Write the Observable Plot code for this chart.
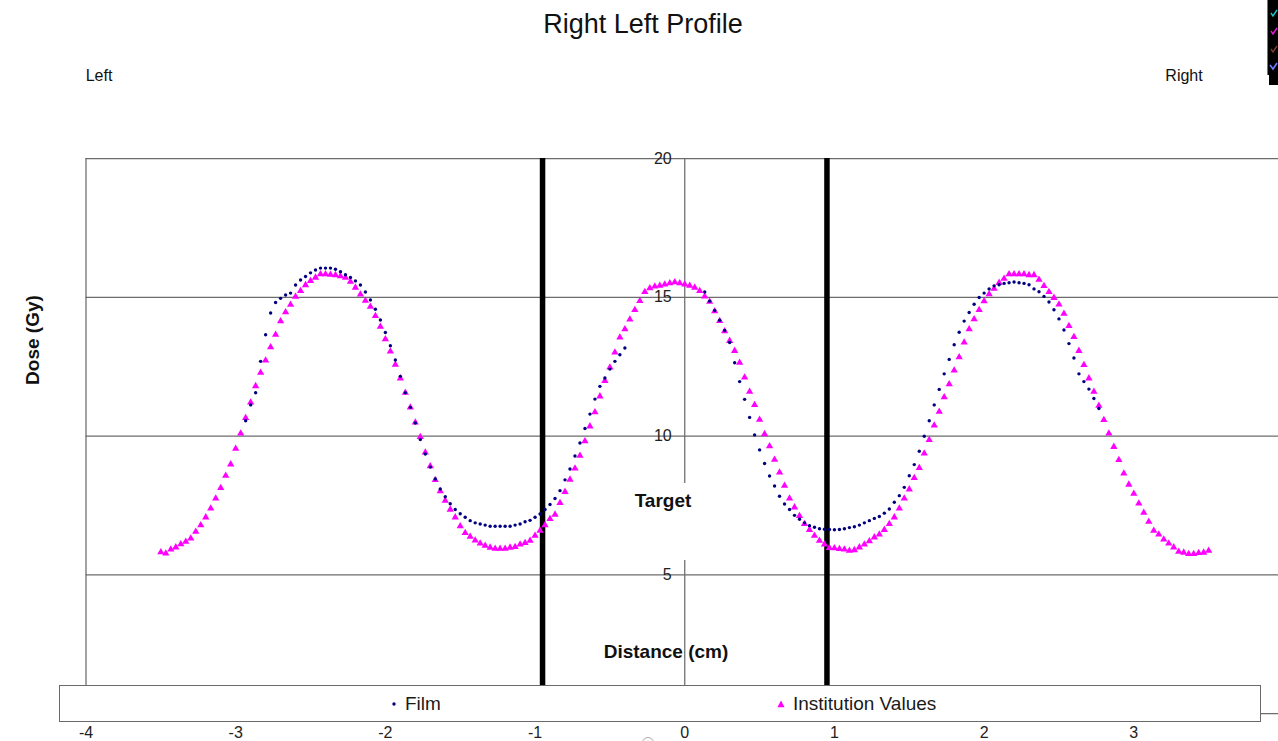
<!DOCTYPE html>
<html>
<head>
<meta charset="utf-8">
<script src="https://cdn.jsdelivr.net/npm/d3@7"></script>
<script src="https://cdn.jsdelivr.net/npm/@observablehq/plot@0.6"></script>
<style>
  html, body { margin: 0; padding: 0; background: #fff; overflow: hidden; width: 1278px; height: 741px; }
  body { position: relative; font-family: "Liberation Sans", Arial, sans-serif; color: #111; }
  #chart { position: absolute; left: 0; top: 0; width: 1290px; height: 741px; }
  #chart svg { max-width: none !important; width: 1290px !important; height: 741px !important; }
  .lbl { position: absolute; white-space: nowrap; line-height: 1; transform: translate(-50%, -50%); }
  .bold { font-weight: bold; }
  #legend { position: absolute; left: 59px; top: 685px; width: 1200px; height: 35px;
            background: #fff; border: 1.5px solid #6a6a6a; }
  .key { position: absolute; top: 50%; transform: translateY(-50%); font-size: 19px; display: flex; align-items: center; color: #1a1a1a; }
  .key svg { margin-right: 8px; }
  #badge { position: absolute; left: 1267px; top: 0; width: 11px; height: 75px; background: #000; border-left: 1px solid #777; }
  #badge2 { position: absolute; left: 1269px; top: 75px; width: 9px; height: 10px; background: #000; }
  #knob { position: absolute; left: 642px; top: 737px; width: 10px; height: 10px; border: 1.5px solid #aaa; border-radius: 50%; }
</style>
</head>
<body>
<div id="chart"></div>

<div class="lbl" style="left:643px; top:24px; font-size:27px;">Right Left Profile</div>
<div class="lbl" style="left:99px; top:76px; font-size:16px;">Left</div>
<div class="lbl" style="left:1184px; top:76px; font-size:16px;">Right</div>
<div class="lbl bold" style="left:32px; top:340px; font-size:19px; transform: translate(-50%, -50%) rotate(-90deg);">Dose (Gy)</div>
<div class="lbl bold" style="left:663px; top:500px; font-size:19px;">Target</div>
<div class="lbl bold" style="left:666px; top:651px; font-size:19px;">Distance (cm)</div>

<div id="legend">
  <div class="key" style="left:331px;">
    <svg width="6" height="6"><circle cx="3" cy="3" r="1.7" fill="#000080"/></svg>Film
  </div>
  <div class="key" style="left:717px;">
    <svg width="8" height="8"><path d="M4,0.5 L7.6,7.2 L0.4,7.2 Z" fill="#ff00ff"/></svg>Institution Values
  </div>
</div>

<div id="badge">
  <svg width="11" height="75">
    <path d="M3,13 l2,3 l4,-6" stroke="#19c6c6" stroke-width="1.4" fill="none"/>
    <path d="M3,31 l2,3 l4,-6" stroke="#e21ad8" stroke-width="1.4" fill="none"/>
    <path d="M3,49 l2,3 l4,-6" stroke="#7a3b2c" stroke-width="1.4" fill="none"/>
    <path d="M2,65 l3,4 l4,-6" stroke="#6a7cff" stroke-width="1.6" fill="none"/>
  </svg>
</div>
<div id="badge2"></div>
<div id="knob"></div>

<script>
// Dose grid and axis ticks
const gridDose = [5, 10, 15, 20];
const distanceTicks = [-4, -3, -2, -1, 0, 1, 2, 3];
// Target edges (cm)
const targetEdges = [-0.95, 0.95];

// Profile sampling: first sample position (cm) and spacing between samples (cm)
const sampleStart = -3.5;
const sampleSpacing = 1 / 30;

// Institution planned dose (Gy), one value per sample from -3.5 cm to 3.5 cm
const institutionDose = [
  5.81, 5.77, 5.91, 5.99, 6.10, 6.19, 6.31, 6.55, 6.79, 7.07,
  7.39, 7.75, 8.13, 8.57, 8.98, 9.54, 10.09, 10.65, 11.21, 11.80,
  12.28, 12.72, 13.20, 13.65, 14.14, 14.46, 14.73, 15.02, 15.23, 15.44,
  15.59, 15.71, 15.83, 15.83, 15.81, 15.80, 15.76, 15.71, 15.56, 15.35,
  15.10, 14.88, 14.66, 14.33, 13.94, 13.49, 13.05, 12.57, 12.08, 11.56,
  11.03, 10.49, 9.97, 9.41, 8.91, 8.42, 8.01, 7.67, 7.35, 7.07,
  6.75, 6.51, 6.37, 6.24, 6.13, 6.05, 5.98, 5.94, 5.94, 5.94,
  5.98, 6.00, 6.09, 6.15, 6.23, 6.41, 6.59, 6.79, 7.01, 7.17,
  7.59, 7.99, 8.43, 8.83, 9.29, 9.81, 10.35, 10.86, 11.43, 11.99,
  12.47, 13.01, 13.55, 13.85, 14.20, 14.54, 14.87, 15.19, 15.33, 15.39,
  15.42, 15.46, 15.51, 15.54, 15.51, 15.46, 15.42, 15.35, 15.23, 15.03,
  14.84, 14.50, 14.15, 13.78, 13.43, 13.07, 12.64, 12.11, 11.60, 11.12,
  10.59, 10.07, 9.63, 9.15, 8.69, 8.21, 7.75, 7.43, 7.12, 6.83,
  6.62, 6.41, 6.23, 6.09, 5.97, 5.96, 5.93, 5.91, 5.87, 5.89,
  5.99, 6.09, 6.21, 6.35, 6.45, 6.62, 6.83, 7.07, 7.39, 7.75,
  8.08, 8.49, 8.85, 9.37, 9.86, 10.38, 10.88, 11.40, 11.87, 12.36,
  12.84, 13.37, 13.85, 14.21, 14.54, 14.86, 15.11, 15.31, 15.52, 15.67,
  15.83, 15.83, 15.83, 15.83, 15.80, 15.80, 15.63, 15.41, 15.19, 14.98,
  14.74, 14.41, 13.97, 13.57, 13.07, 12.56, 12.08, 11.60, 11.09, 10.58,
  10.09, 9.61, 9.14, 8.65, 8.25, 7.92, 7.57, 7.24, 6.91, 6.59,
  6.45, 6.27, 6.13, 5.99, 5.83, 5.80, 5.75, 5.75, 5.79, 5.80, 5.87
];

// Film measured dose (Gy); starts at sample 17, null where the film gave no reading
const filmFirstSample = 17;
const filmDose = [
  10.55, 11.12, 11.56, 12.69, 13.65, 14.43, 14.81, 14.96, 15.08, 15.15,
  15.44, 15.62, 15.75, 15.88, 15.98, 16.05, 16.05, 16.05, 16.01, 15.92,
  15.81, 15.71, 15.59, 15.44, 15.19, 14.90, 14.57, 14.18, 13.73, 13.25,
  12.74, 12.15, 11.56, 11.03, 10.47, 9.87, 9.35, 8.88, 8.45, 8.09,
  7.81, 7.56, 7.35, 7.20, 7.07, 6.95, 6.87, 6.83, 6.79, 6.75,
  6.75, 6.75, 6.75, 6.75, 6.79, 6.83, 6.91, 6.96, 7.07, 7.19,
  7.35, 7.53, 7.75, 8.03, 8.42, 8.81, 9.28, 9.75, 10.27, 10.79,
  11.33, 11.79, 12.09, 12.41, 12.69, 12.93, 13.17, null, null, null,
  null, null, null, null, null, null, null, null, null, null,
  null, null, 15.19, 14.86, 14.52, 14.17, 13.80, 13.37, 12.64, 11.96,
  11.32, 10.67, 10.04, 9.50, 9.01, 8.56, 8.20, 7.83, 7.55, 7.35,
  7.14, 7.00, 6.87, 6.77, 6.71, 6.66, 6.64, 6.63, 6.62, 6.63,
  6.66, 6.70, 6.73, 6.79, 6.87, 6.95, 7.03, 7.10, 7.22, 7.37,
  7.61, 7.85, 8.15, 8.57, 8.97, 9.45, 9.99, 10.55, 11.12, 11.68,
  12.24, 12.76, 13.29, 13.74, 14.14, 14.45, 14.75, 14.99, 15.15, 15.30,
  15.41, 15.45, 15.50, 15.52, 15.55, 15.52, 15.50, 15.45, 15.30, 15.20,
  15.03, 14.83, 14.55, 14.22, 13.82, 13.33, 12.81, 12.24, 11.96, 11.69,
  11.35, 10.99
];

const institutionRows = institutionDose.map((dose, i) => ({distance: sampleStart + i * sampleSpacing, dose}));
const filmRows = filmDose.map((dose, i) => ({distance: sampleStart + (filmFirstSample + i) * sampleSpacing, dose}));

// Central axis line is broken behind the "Target" label
const axisSegments = [{from: 0, to: 5.51}, {from: 8.29, to: 20}];

const gridColor = "#6c6c6c";

const chart = Plot.plot({
  width: 1290,
  height: 741,
  marginLeft: 85.5,
  marginRight: 7,
  marginTop: 158,
  marginBottom: 28,
  style: {fontFamily: '"Liberation Sans", Arial, sans-serif', background: "transparent", overflow: "visible", maxWidth: "none"},
  x: {domain: [-4, 4], axis: null},
  y: {domain: [0, 20], axis: null},
  marks: [
    Plot.ruleY(gridDose, {x1: -4, x2: 4, stroke: gridColor, strokeWidth: 1.25}),
    Plot.ruleY([0], {x1: -4, x2: 4, stroke: gridColor, strokeWidth: 1.25}),
    Plot.ruleX([-4], {y1: 0, y2: 20, stroke: gridColor, strokeWidth: 1.25}),
    Plot.ruleX(axisSegments, {x: () => 0, y1: "from", y2: "to", stroke: gridColor, strokeWidth: 1.25}),
    Plot.ruleX(targetEdges, {y1: 0, y2: 20, stroke: "#000", strokeWidth: 5.5}),
    Plot.dot(institutionRows, {x: "distance", y: "dose", symbol: "triangle", r: 2.7, fill: "#ff00ff", stroke: null}),
    Plot.dot(filmRows, {x: "distance", y: "dose", r: 1.7, fill: "#000080", stroke: null}),
    Plot.text(gridDose, {x: () => 0, y: d => d, text: d => String(d), textAnchor: "end", dx: -13, fontSize: 16, fill: "#222"}),
    Plot.text(distanceTicks, {x: d => d, y: () => 0, text: d => String(d), dy: 19, fontSize: 16, fill: "#222"})
  ]
});

document.getElementById("chart").appendChild(chart);
</script>
</body>
</html>
